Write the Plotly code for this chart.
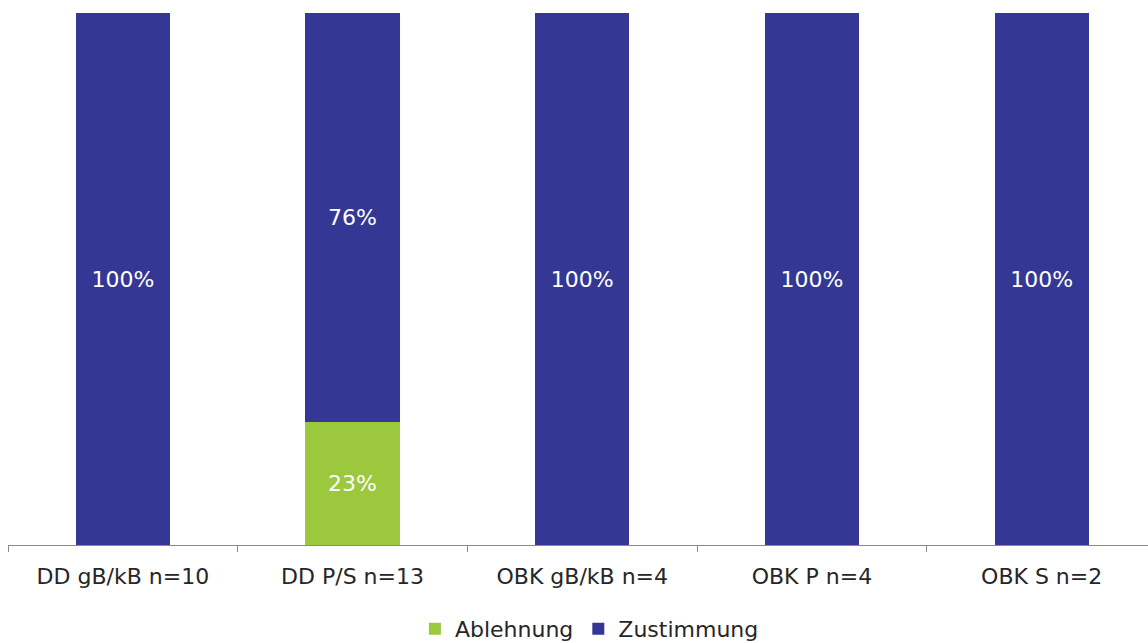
import plotly.graph_objects as go

categories = ["DD gB/kB n=10", "DD P/S n=13", "OBK gB/kB n=4", "OBK P n=4", "OBK S n=2"]
ablehnung = [0, 23.08, 0, 0, 0]
zustimmung = [100, 76.92, 100, 100, 100]
ablehnung_labels = ["", "23%", "", "", ""]
zustimmung_labels = ["100%", "76%", "100%", "100%", "100%"]

FONT = "DejaVu Sans, Verdana, sans-serif"

fig = go.Figure()
fig.add_trace(go.Bar(
    x=categories, y=ablehnung, name="Ablehnung",
    marker=dict(color="#9BC83C", line=dict(width=0)),
    text=ablehnung_labels, textposition="inside", insidetextanchor="middle",
    textfont=dict(color="white", size=22, family=FONT),
    hoverinfo="skip",
))
fig.add_trace(go.Bar(
    x=categories, y=zustimmung, name="Zustimmung",
    marker=dict(color="#343894", line=dict(width=0)),
    text=zustimmung_labels, textposition="inside", insidetextanchor="middle",
    textfont=dict(color="white", size=22, family=FONT),
    hoverinfo="skip",
))

fig.update_layout(
    barmode="stack",
    bargap=0.59,
    width=1148, height=643,
    margin=dict(l=8, r=0, t=13, b=98, autoexpand=False),
    plot_bgcolor="white", paper_bgcolor="white",
    font=dict(family=FONT, size=22, color="#262626"),
    uniformtext=dict(mode="show", minsize=10),
    legend=dict(orientation="h", x=0.51, xanchor="center",
                yref="container", y=0.022, yanchor="middle",
                font=dict(size=22, color="#262626"), itemwidth=30, traceorder="normal",
                tracegroupgap=0),
    xaxis=dict(
        range=[-0.5, 4.463], automargin=False,
        showline=True, linecolor="#898989", linewidth=1,
        ticks="outside", tickson="boundaries", ticklen=6, tickcolor="#898989",
        ticklabelstandoff=12,
        showgrid=False, tickfont=dict(size=22, color="#262626"),
    ),
    yaxis=dict(range=[0, 100], visible=False, showgrid=False),
)

fig.write_html("out.html")
